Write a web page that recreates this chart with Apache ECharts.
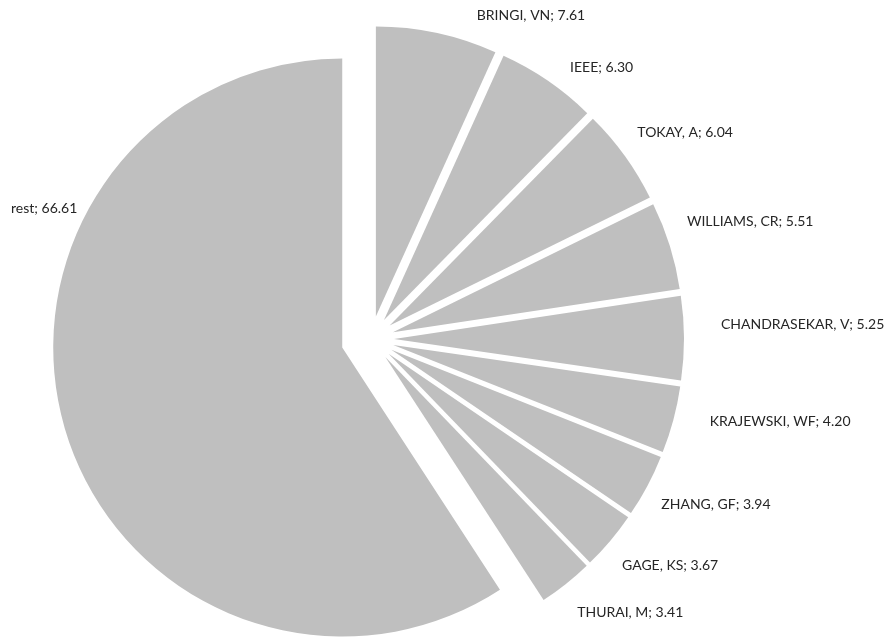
<!DOCTYPE html>
<html><head><meta charset="utf-8">
<script src="https://cdn.jsdelivr.net/npm/echarts@6/dist/echarts.min.js"></script>
<style>html,body{margin:0;padding:0;background:#fff}#c{width:894px;height:638px}</style>
</head><body><div id="c"></div>
<script>
const names = ['BRINGI, VN','IEEE','TOKAY, A','WILLIAMS, CR','CHANDRASEKAR, V','KRAJEWSKI, WF','ZHANG, GF','GAGE, KS','THURAI, M','rest'];
const values = [7.61,6.30,6.04,5.51,5.25,4.20,3.94,3.67,3.41,66.61];
const restName = 'rest';

// label nudges (layout only), indexed like names
const labelNudge = [[21,0],[-3,2],[-17,-13],[-15,-19],[4,-14],[4,-3],[-17,10],[-17,13],[-15,15],[0,0]];

const chart = echarts.init(document.getElementById('c'), null, {renderer:'canvas'});
const fontStyle = {fontFamily:'Lato', fontSize:14, color:'#262626'};
function fmt(p){ return p.name + '; ' + Number(p.value).toFixed(2); }
function buildData(showRest){
  return names.map((n,i)=>{
    const isRest = n === restName;
    const visible = isRest === showRest;
    return {
      name:n, value:values[i], selected: visible,
      itemStyle:{color: visible ? '#BFBFBF' : 'rgba(0,0,0,0)'},
      label:{show: visible && !isRest}
    };
  });
}
const common = {
  type:'pie', center:[371,339], startAngle:90, clockwise:true,
  selectedMode:'multiple', avoidLabelOverlap:false, animation:false,
  emphasis:{disabled:true}, silent:true,
  labelLine:{show:false, length:18, length2:10},
  label:Object.assign({position:'outside', formatter:fmt, alignTo:'none'}, fontStyle),
  itemStyle:{borderWidth:0}
};
const restIdx = names.indexOf(restName);
chart.setOption({
  animation:false,
  graphic:[{
    type:'text', left:11, top:201,
    style:{text: restName + '; ' + values[restIdx].toFixed(2), font:'14px Lato', fill:'#262626'}
  }],
  series:[
    Object.assign({}, common, {radius:[0,290], selectedOffset:23, data:buildData(false),
      labelLayout:function(p){ const n = labelNudge[p.dataIndex]; return {dx:n[0], dy:n[1]}; }}),
    Object.assign({}, common, {radius:[0,289], selectedOffset:30, data:buildData(true)})
  ]
});
</script></body></html>
